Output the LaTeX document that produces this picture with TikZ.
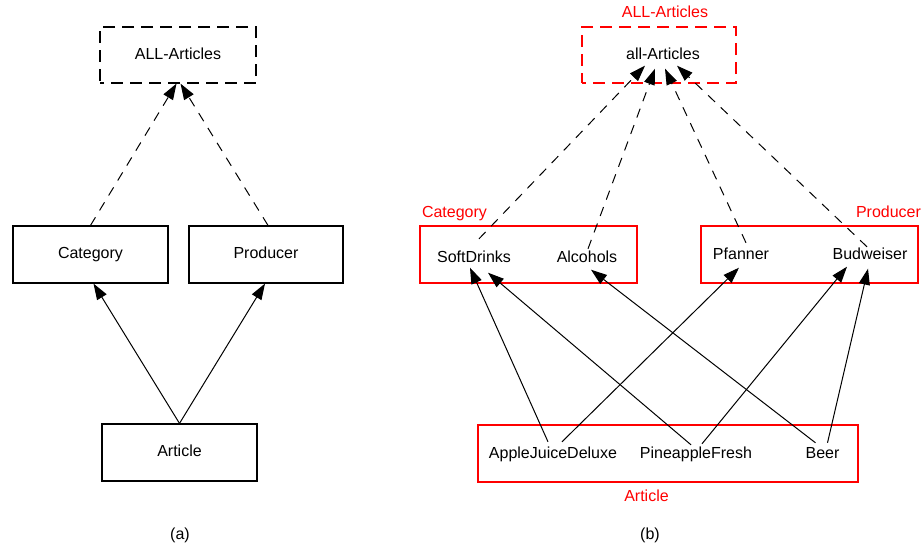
\documentclass[tikz,border=0pt]{standalone}
\usepackage{fontspec}
\setmainfont{Liberation Sans}
\usetikzlibrary{arrows.meta}
\begin{document}
\begin{tikzpicture}[x=1pt,y=-1pt,
  font=\fontsize{16}{19}\selectfont,
  every node/.style={text height=12pt,text depth=3.5pt},
  box/.style={draw,line width=1.2pt,inner sep=0pt,minimum width=155pt,minimum height=57pt},
  redbox/.style={draw=red,line width=1.2pt,inner sep=0pt,minimum height=57pt},
  dashbox/.style={dash pattern=on 12pt off 7pt,dash phase=8pt},
  item/.style={anchor=base,inner xsep=0pt,inner ysep=4pt},
  lbl/.style={anchor=base,inner sep=0pt,text=red},
  subcaption/.style={anchor=base,inner sep=0pt},
  dashline/.style={dash pattern=on 9.5pt off 8pt},
  rel/.style={line width=1pt,-{Triangle[length=16pt,width=11pt]}},
  dep/.style={rel,dashline}
]
\useasboundingbox (0,0) rectangle (924,552);

% ---- (a) schema level ----
\node[box,dashbox,minimum width=156pt,minimum height=56pt] (allL) at (178,55) {ALL-Articles};
\node[box] (cat)  at (90.5,254.5) {Category};
\node[box,minimum width=154pt] (prod) at (266,254.5) {Producer};
\node[box] (art)  at (179.5,452.5) {Article};
\node[subcaption] (capa) at (180,539) {(a)};

\draw[dep] (cat.north) -- ([xshift=-1.5pt]allL.south);
\draw[dep] ([xshift=2pt]prod.north) -- ([xshift=2.5pt]allL.south);
\draw[rel] (art.north) -- ([xshift=3pt]cat.south);
\draw[rel] (art.north) -- ([xshift=-1pt]prod.south);

% ---- (b) instance level ----
\node[redbox,dashbox,minimum width=154pt,minimum height=56pt] (allRbox) at (659,55) {};
\node[lbl] (allRlbl) at (665,17) {ALL-Articles};
\node[item] (allR) at (663,59) {all-Articles};

\node[redbox,minimum width=217pt] (catR) at (528.5,254.5) {};
\node[lbl] (catlbl) at (454.5,217) {Category};
\node[item] (sd)  at (474,262) {SoftDrinks};
\node[item] (alc) at (587,262) {Alcohols};

\node[redbox,minimum width=217pt] (prodR) at (809.5,254.5) {};
\node[lbl] (prodlbl) at (888.5,217) {Producer};
\node[item] (pf)  at (741,259) {Pfanner};
\node[item] (bud) at (870,259) {Budweiser};

\node[redbox,minimum width=380pt] (artR) at (668,453.5) {};
\node[lbl] (artlbl) at (646.5,501) {Article};
\node[item] (ajd)  at (553,458) {AppleJuiceDeluxe};
\node[item] (pine) at (696,458) {PineappleFresh};
\node[item] (beer) at (822.5,458) {Beer};
\node[subcaption] (capb) at (650,539) {(b)};

% instances of the top level
\draw[dep] ([xshift=5pt,yshift=7pt]sd.north)   -- ([xshift=-18pt,yshift=1pt]allR.south);
\draw[dep] ([xshift=1pt,yshift=-3pt]alc.north) -- ([xshift=-8pt,yshift=-2pt]allR.south);
\draw[dep] ([xshift=5pt]pf.north)              -- ([xshift=2pt,yshift=-2pt]allR.south);
\draw[dep] ([xshift=-3pt,yshift=-4pt]bud.north) -- ([xshift=14pt,yshift=1pt]allR.south);

% articles to their category and producer
\draw[rel] ([xshift=-5pt]ajd.north) -- ([xshift=-4pt,yshift=2pt]sd.south);
\draw[rel] ([xshift=9pt]ajd.north)  -- ([xshift=-2pt,yshift=-1pt]pf.south);
\draw[rel] ([xshift=-5pt,yshift=-3pt]pine.north) -- ([xshift=14pt,yshift=-3pt]sd.south);
\draw[rel] ([xshift=6pt,yshift=-2pt]pine.north)  -- ([xshift=-23pt]bud.south);
\draw[rel] ([xshift=-7pt,yshift=-1pt]beer.north) -- ([xshift=4pt]alc.south);
\draw[rel] ([xshift=5pt,yshift=-1pt]beer.north)  -- ([xshift=-2pt,yshift=-2pt]bud.south);
\end{tikzpicture}
\end{document}
